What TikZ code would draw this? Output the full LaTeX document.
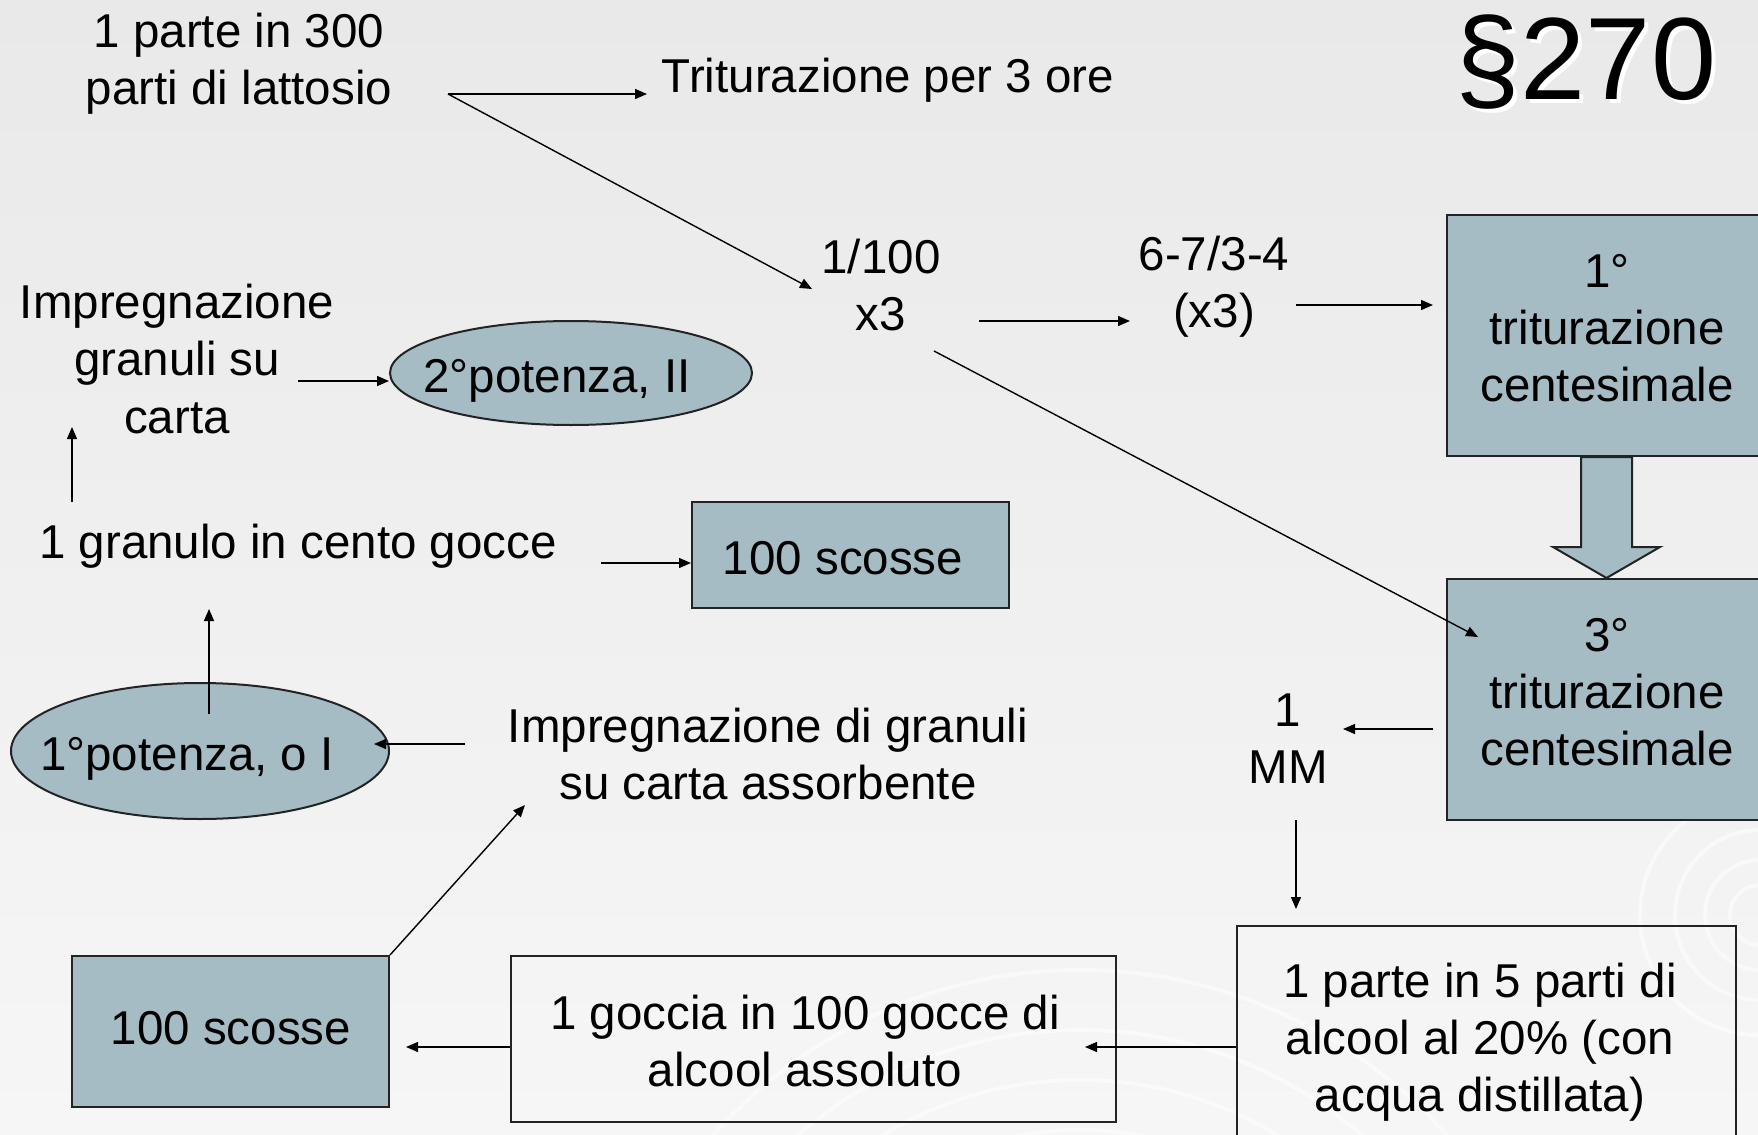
\documentclass[tikz,border=0pt]{standalone}
\usepackage{fontspec}
\setmainfont{Liberation Sans}
\usetikzlibrary{arrows.meta,shapes.geometric,calc}
\definecolor{bgtop}{RGB}{233,233,233}
\definecolor{bgbot}{RGB}{246,246,246}
\definecolor{boxfill}{RGB}{165,188,196}
\definecolor{edge}{RGB}{35,35,35}
\begin{document}
\begin{tikzpicture}[x=0.5pt,y=-0.5pt,
  txt/.style={font=\fontsize{23.75}{28.6}\selectfont, align=center, inner sep=0pt},
  shape box/.style={draw=edge, line width=1pt, rectangle, inner sep=0pt},
  filled/.style={fill=boxfill},
  oval/.style={draw=edge, line width=1pt, ellipse, fill=boxfill, inner sep=0pt},
  arr/.style={line width=0.7pt, -{Triangle[length=6pt,width=5pt]}},
  plain/.style={line width=0.7pt}]

% page and background
\useasboundingbox (0,0) rectangle (1758,1135);
\clip (0,0) rectangle (1758,1135);
\shade[top color=bgtop, bottom color=bgbot] (0,0) rectangle (1758,1135);

% faint swirl in the lower right corner
\begin{scope}[white, line width=2pt, opacity=0.5]
  \foreach \r in {30,55,85,120} \draw (1760,915) circle (\r);
  \foreach \r in {330,380,430,490} \draw (1080,1460) circle (\r);
\end{scope}

% section number with its white shadow
\node[font=\fontsize{58.5}{60}\selectfont, inner sep=0pt, white] at (1590,66) {§270};
\node[font=\fontsize{58.5}{60}\selectfont, inner sep=0pt] (sec) at (1586,62) {§270};

% text labels
\node[txt] (lat)   at (239,64)  {1 parte in 300\\parti di lattosio};
\node[txt] (tri)   at (888,80)  {Triturazione per 3 ore};
\node[txt] (cent)  at (881,285) {1/100\\x3};
\node[txt] (ratio) at (1214,287) {6-7/3-4\\(x3)};
\node[txt] (mm)    at (1288,739) {1\\MM};
\node[txt] (gran)  at (298,546) {1 granulo in cento gocce};
\node[txt] (imp2)  at (768,754) {Impregnazione di granuli\\su carta assorbente};
\node[txt] (imp1)  at (177,359) {Impregnazione\\granuli su\\carta};

% shaded boxes
\node[shape box, filled, minimum width=161.5pt, minimum height=120.5pt] (b1) at (1608.5,335.5) {};
\node[txt] at (1607,328) {1°\\triturazione\\centesimale};
\node[shape box, filled, minimum width=161.5pt, minimum height=120.5pt] (b3) at (1608.5,699.5) {};
\node[txt] at (1607,692) {3°\\triturazione\\centesimale};
\node[shape box, filled, minimum width=158.5pt, minimum height=53pt] (s1) at (850.5,555) {};
\node[txt] at (843,558) {100 scosse};
\node[shape box, filled, minimum width=158.5pt, minimum height=75.5pt] (s2) at (230.5,1031.5) {};
\node[txt] at (231,1028) {100 scosse};

% open boxes
\node[shape box, minimum width=249.5pt, minimum height=117pt] (b5) at (1486.5,1043) {};
\node[txt] at (1480,1042) {1 parte in 5 parti di\\alcool al 20\% (con\\acqua distillata)};
\node[shape box, minimum width=302.5pt, minimum height=83pt] (goc) at (813.5,1039) {};
\node[txt] at (805,1041) {1 goccia in 100 gocce di\\alcool assoluto};

% ellipses
\node[oval, minimum width=189pt, minimum height=68pt] (e1) at (200,751) {};
\node[txt] at (187,759) {1°potenza, o I};
\node[oval, minimum width=181pt, minimum height=52pt] (e2) at (571,373) {};
\node[txt] at (557,381) {2°potenza, II};

% block arrow from the first to the third trituration
\filldraw[fill=boxfill, draw=edge, line width=1pt]
  (b1.south -| 1581,0) -- (b1.south -| 1632,0) -- (1632,547) -- (1660,547)
  -- (b3.north -| 1606.5,0) -- (1553,547) -- (1581,547) -- cycle;

% connector end points
\coordinate (latA) at (448,94);
\coordinate (triA) at (647,94);
\coordinate (centA) at (812,289);
\coordinate (centB) at (979,321);
\coordinate (ratioA) at (1130,321);
\coordinate (ratioB) at (1296,305);
\coordinate (b1A) at (1433,305);
\coordinate (centC) at (934,351);
\coordinate (b3A) at (1478,637);
\coordinate (b3B) at (1433,729);
\coordinate (mmA) at (1343,729);
\coordinate (mmB) at (1296,820);
\coordinate (b5A) at (1296,909);
\coordinate (gocA) at (1085,1047);
\coordinate (s2A) at (406,1047);
\coordinate (imp2A) at (525,805);
\coordinate (imp2B) at (465,744);
\coordinate (e1A) at (374,744);
\coordinate (e1B) at (209,714);
\coordinate (granA) at (209,609);
\coordinate (granB) at (601,563);
\coordinate (granC) at (72,502);
\coordinate (imp1A) at (72,427);
\coordinate (imp1B) at (298,381);
\coordinate (e2A) at (389,381);

% connectors
\draw[arr] (latA) -- (triA);
\draw[arr] (latA) -- (centA);
\draw[arr] (centB) -- (ratioA);
\draw[arr] (ratioB) -- (b1A);
\draw[arr] (centC) -- (b3A);
\draw[arr] (b3B) -- (mmA);
\draw[arr] (mmB) -- (b5A);
\draw[arr] (b5.west |- gocA) -- (gocA);
\draw[arr] (goc.west |- s2A) -- (s2A);
\draw[arr] (s2.north east) -- (imp2A);
\draw[arr] (imp2B) -- (e1A);
\draw[arr] (e1B) -- (granA);
\draw[arr] (granB) -- (s1.west |- granB);
\draw[arr] (granC) -- (imp1A);
\draw[arr] (imp1B) -- (e2A);
\end{tikzpicture}
\end{document}
